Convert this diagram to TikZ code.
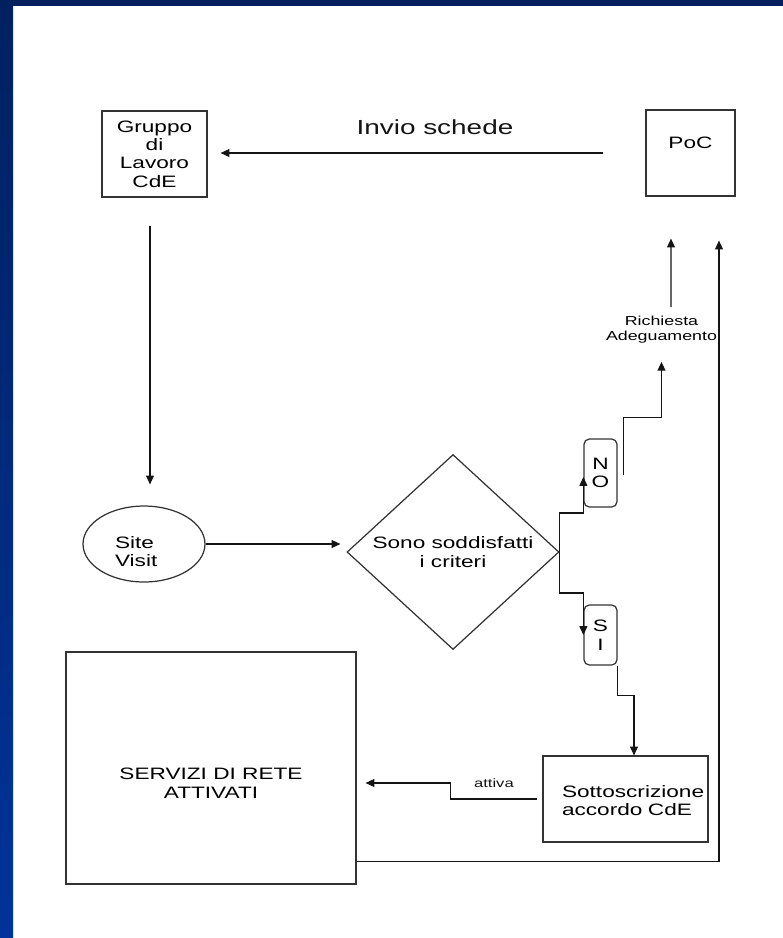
\documentclass[tikz,border=0pt]{standalone}
\usepackage{fontspec}
\setmainfont{Liberation Sans}[FakeStretch=1.37]
\usepackage{tikz}
\usepackage{xcolor}
\usetikzlibrary{positioning}
\usetikzlibrary{calc}
\usetikzlibrary{arrows.meta}
\usetikzlibrary{shapes.geometric}
\definecolor{bandtopcolor}{RGB}{0, 32, 96}
\definecolor{bandcolor}{RGB}{0, 51, 153}
\definecolor{edgecolor}{RGB}{51, 51, 51}
\definecolor{linecolor}{RGB}{20, 20, 20}
\newcommand{\mainsize}{\fontsize{9.4pt}{10.5pt}\selectfont}
\newcommand{\titlesize}{\fontsize{11.6pt}{13pt}\selectfont}
\newcommand{\notesize}{\fontsize{7.4pt}{8.5pt}\selectfont}
\newcommand{\tagsize}{\fontsize{6.9pt}{8pt}\selectfont}
\tikzstyle{block} = [
    rectangle,
    draw=edgecolor,
    line width=0.7pt,
    align=center,
    font=\mainsize,
    inner sep=0pt
]
\tikzstyle{visit} = [ellipse, draw=edgecolor, line width=0.7pt, align=left, font=\mainsize, inner sep=0pt, minimum width=2.44cm, minimum height=1.52cm]
\tikzstyle{decision} = [diamond, draw=edgecolor, line width=0.7pt, align=center, font=\mainsize, inner sep=0pt, minimum width=4.24cm, minimum height=3.9cm]
\tikzstyle{answer} = [rectangle, rounded corners=3pt, draw=edgecolor, line width=0.7pt, align=center, font=\mainsize, inner sep=0pt, minimum width=0.66cm]
\tikzstyle{note} = [align=center, font=\notesize, inner sep=0pt]
\tikzstyle{flow} = [-{Triangle[length=5pt, width=4.5pt]}, line width=0.6pt, linecolor]

\begin{document}
\begin{tikzpicture}[x=0.02cm, y=-0.02cm]

	% Slide background
	\useasboundingbox (0,0) rectangle (783,938);
	\fill[white] (0,0) rectangle (783,938);
	\shade[top color=bandtopcolor, bottom color=bandcolor] (0,0) rectangle (13,938);
	\fill[bandtopcolor] (0,0) rectangle (783,6);

	%
	% Top row

	% Boxes
	\node[block, minimum width=2.1cm, minimum height=1.72cm] (gruppo) at (154.5,154) {Gruppo\\di\\Lavoro\\CdE};
	\node[block, minimum width=1.78cm, minimum height=1.72cm, text depth=0.4cm] (poc) at (690.5,153) {PoC};

	% Arrows
	\draw[flow] ($(poc.west)+(-42,0)$) -- node[pos=0.44, above=0.36cm, font=\titlesize, inner sep=0pt] (inviolabel) {Invio schede} ($(gruppo.east)+(13,-1)$);

	%
	% Visit and check

	% Boxes
	\node[visit, text width=1.16cm, text height=0.16cm, text depth=0pt] (site) at (144,544) {Site\\Visit};
	\node[decision] (crit) at (453,552) {Sono soddisfatti\\i criteri};
	\node[answer, minimum height=1.36cm] (no) at (600.5,473) {N\\O};
	\node[answer, minimum height=1.2cm] (si) at (600.5,635) {S\\I};
	\node[note] (req) at (661.5,330) {Richiesta\\Adeguamento};

	% Arrows
	\draw[flow] ($(gruppo.south)+(-4.5,28)$) -- ($(site.north)+(6,-21)$);
	\draw[flow] (site.east) -- ($(crit.west)+(-6,-8)$);
	\draw[flow] (crit.east) -- ($(crit.east)+(0,-39)$) -| ($(no.west)+(0,4)$);
	\draw[flow] (crit.east) -- ($(crit.east)+(0,41)$) -| (si.west);
	\draw[flow] ($(no.east)+(6,2)$) |- ($(req.south)+(0,74)$) -- ($(req.south)+(0,18)$);
	\draw[flow] ($(req.north)+(9.5,-9)$) -- ($(poc.south)+(-19.5,42)$);

	%
	% Bottom row

	% Boxes
	\node[block, minimum width=3.3cm, minimum height=1.72cm, align=left, text width=2.54cm, text height=0pt, text depth=0.08cm] (sott) at (625.5,799) {\mbox{Sottoscrizione}\\\mbox{accordo CdE}};
	\node[block, minimum width=5.8cm, minimum height=4.64cm, text height=1.2cm, text depth=0pt] (servizi) at (211,768) {SERVIZI DI RETE\\ATTIVATI};

	% Arrows
	\draw[flow] (si.south east) -- ++(0,30) -| ($(sott.north)+(8.5,0)$);
	\draw[flow] ($(sott.west)+(-5,0)$) -- node[above=0.22cm, font=\tagsize, inner sep=0pt] (attivalabel) {attiva} ++(-87,0) |- ($(servizi.east)+(9,15)$);
	\draw[flow] ($(servizi.south east)+(0,-23)$) -| ($(poc.south)+(28.5,44)$);

\end{tikzpicture}
\end{document}
